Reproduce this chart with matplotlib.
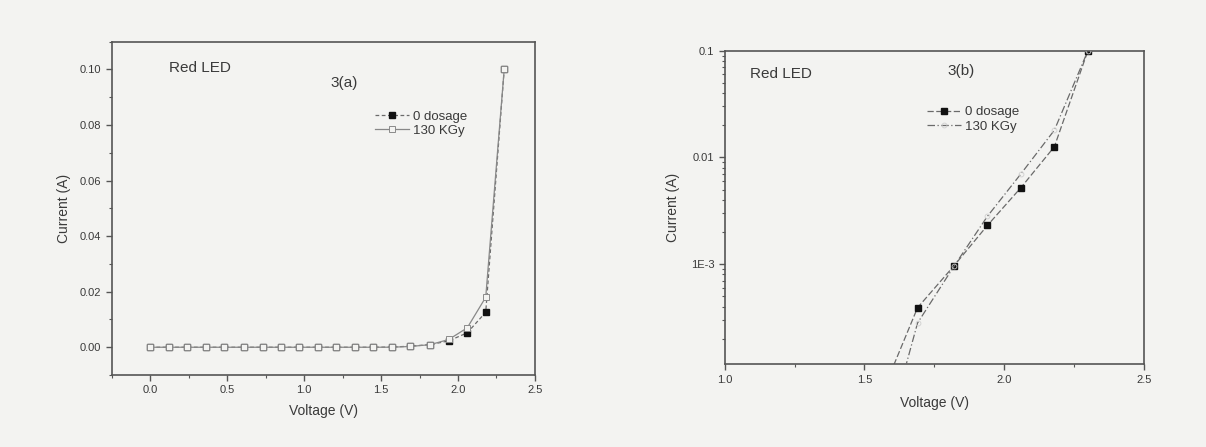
import matplotlib
matplotlib.use("Agg")
import matplotlib.pyplot as plt
from matplotlib.ticker import MultipleLocator, FixedLocator, FixedFormatter, LogLocator, NullFormatter

plt.rcParams['font.family'] = ['Liberation Sans', 'DejaVu Sans']

# ---- data ----
voltage = [0.00, 0.12, 0.24, 0.36, 0.48, 0.61, 0.73, 0.85, 0.97, 1.09,
           1.21, 1.33, 1.45, 1.57, 1.69, 1.82, 1.94, 2.06, 2.18, 2.30]
current_0_dosage = [1e-9, 1.2e-9, 1.5e-9, 2e-9, 3e-9, 5e-9, 9e-9, 2e-8, 4e-8, 1e-7,
                    2.5e-7, 7e-7, 6e-6, 6.8e-5, 3.9e-4, 9.6e-4, 2.3e-3, 5.2e-3, 0.0126, 0.100]
current_130kgy = [1e-9, 1.2e-9, 1.5e-9, 2e-9, 3e-9, 5e-9, 9e-9, 2e-8, 4e-8, 1e-7,
                  2.5e-7, 6e-7, 2e-6, 2.0e-5, 2.8e-4, 9.5e-4, 2.8e-3, 7.0e-3, 0.018, 0.100]
series_labels = ["0 dosage", "130 KGy"]
lin_yticks = [0.00, 0.02, 0.04, 0.06, 0.08, 0.10]
lin_xticks = [0.0, 0.5, 1.0, 1.5, 2.0, 2.5]
log_yticks = [1e-3, 1e-2, 1e-1]
log_yticklabels = ["1E-3", "0.01", "0.1"]
log_xticks = [1.0, 1.5, 2.0, 2.5]

bg = '#f3f3f1'
ink = '#3a3a3a'
line_grey = '#6a6a6a'

fig = plt.figure(figsize=(12.06, 4.47), dpi=100, facecolor=bg)
axA = fig.add_axes([0.0926, 0.161, 0.351, 0.7457], facecolor=bg)
axB = fig.add_axes([0.601, 0.185, 0.3474, 0.7016], facecolor=bg)

for ax in (axA, axB):
    for s in ax.spines.values():
        s.set_color('#555555')
        s.set_linewidth(1.2)
    ax.tick_params(which='both', direction='out', colors='#555555',
                   labelcolor=ink, labelsize=8, top=False, right=False)
    ax.tick_params(which='major', length=4, width=1)
    ax.tick_params(which='minor', length=2.5, width=0.8)

# ---- panel (a): linear ----
axA.plot(voltage, current_0_dosage, linestyle=(0, (3, 2)), color=line_grey, lw=0.9,
         marker='s', markersize=4.5, markerfacecolor='#111111', markeredgecolor='#111111',
         label=series_labels[0], zorder=2)
axA.plot(voltage, current_130kgy, linestyle='-', color='#888888', lw=0.9,
         marker='s', markersize=4.5, markerfacecolor=bg, markeredgecolor='#8a8a8a',
         markeredgewidth=0.7, label=series_labels[1], zorder=3)
axA.set_xlim(-0.25, 2.5)
axA.set_ylim(-0.01, 0.11)
axA.xaxis.set_major_locator(FixedLocator(lin_xticks))
axA.xaxis.set_minor_locator(MultipleLocator(0.25))
axA.yaxis.set_major_locator(FixedLocator(lin_yticks))
axA.yaxis.set_minor_locator(MultipleLocator(0.01))
axA.set_xticklabels([f"{v:.1f}" for v in lin_xticks])
axA.set_yticklabels([f"{v:.2f}" for v in lin_yticks])
axA.set_xlabel("Voltage (V)", fontsize=10, color=ink, labelpad=6)
axA.set_ylabel("Current (A)", fontsize=10, color=ink, labelpad=6)
axA.text(0.135, 0.92, "Red LED", transform=axA.transAxes, fontsize=11, color=ink, va='center')
axA.text(0.55, 0.877, "3(a)", transform=axA.transAxes, fontsize=11, color=ink, va='center', ha='center')
legA = axA.legend(loc='upper left', bbox_to_anchor=(0.61, 0.81), frameon=False, fontsize=9.5,
                  handlelength=2.6, handletextpad=0.3, labelspacing=0.15, borderaxespad=0)
for t in legA.get_texts():
    t.set_color(ink)

# ---- panel (b): log ----
axB.semilogy(voltage, current_0_dosage, linestyle=(0, (5, 2)), color=line_grey, lw=0.9,
             marker='s', markersize=4, markerfacecolor='#111111', markeredgecolor='#111111',
             label=series_labels[0], zorder=2)
axB.semilogy(voltage, current_130kgy, linestyle=(0, (6, 2, 1, 2)), color=line_grey, lw=0.9,
             marker='o', markersize=3.5, markerfacecolor='none', markeredgecolor='#cfcfcf',
             markeredgewidth=0.6, label=series_labels[1], zorder=3)
axB.set_xlim(1.0, 2.5)
axB.set_ylim(1.15e-4, 0.1)
axB.xaxis.set_major_locator(FixedLocator(log_xticks))
axB.xaxis.set_minor_locator(MultipleLocator(0.25))
axB.set_xticklabels([f"{v:.1f}" for v in log_xticks])
axB.yaxis.set_major_locator(FixedLocator(log_yticks))
axB.yaxis.set_major_formatter(FixedFormatter(log_yticklabels))
axB.yaxis.set_minor_locator(LogLocator(base=10, subs=range(2, 10)))
axB.yaxis.set_minor_formatter(NullFormatter())
axB.set_xlabel("Voltage (V)", fontsize=10, color=ink, labelpad=8)
axB.set_ylabel("Current (A)", fontsize=10, color=ink, labelpad=8)
axB.text(0.06, 0.925, "Red LED", transform=axB.transAxes, fontsize=11, color=ink, va='center')
axB.text(0.565, 0.936, "3(b)", transform=axB.transAxes, fontsize=11, color=ink, va='center', ha='center')
legB = axB.legend(loc='upper left', bbox_to_anchor=(0.47, 0.84), frameon=False, fontsize=9.5,
                  handlelength=2.6, handletextpad=0.3, labelspacing=0.15, borderaxespad=0)
for t in legB.get_texts():
    t.set_color(ink)

fig.savefig("out.png", dpi=100, facecolor=bg)
